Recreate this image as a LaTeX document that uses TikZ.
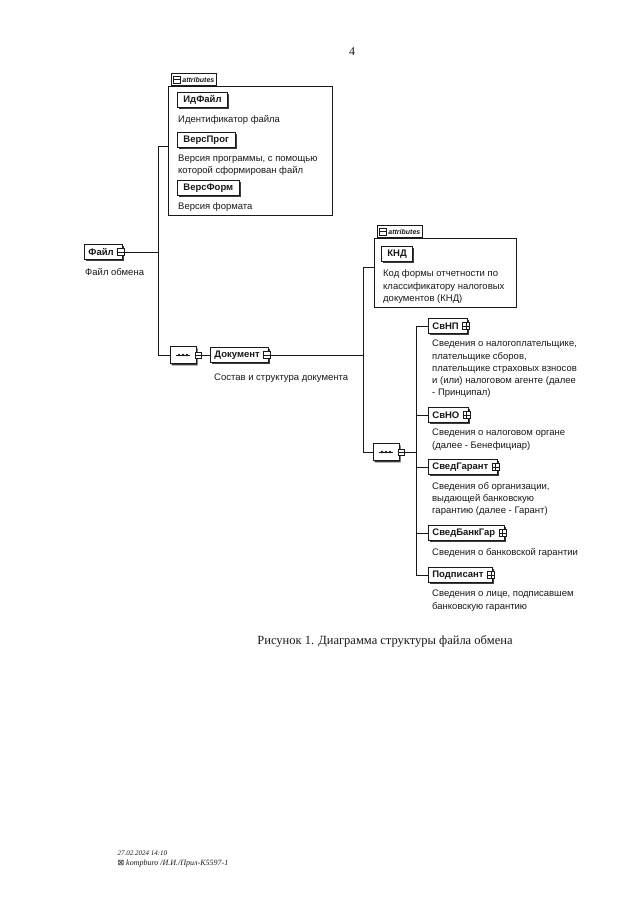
\documentclass[tikz,border=0pt]{standalone}
\usepackage{fontspec}
\setmainfont{Liberation Serif}
\newfontfamily\diagfont{Liberation Sans}
\newfontfamily\symbfont{DejaVu Sans}
\usepackage{tikz}
\usetikzlibrary{positioning, shapes.misc, shadows}
\definecolor{inkGray}{RGB}{25, 25, 25}
\definecolor{shadeGray}{RGB}{60, 60, 60}

\begin{document}
\begin{tikzpicture}[
    x=1pt, y=-1pt,
    every node/.style={font=\diagfont\fontsize{9.5}{12.3}\selectfont, text=inkGray},
    elem/.style={
        rectangle, draw=inkGray, line width=0.8pt, fill=white, anchor=west,
        font=\diagfont\fontsize{9.5}{11}\selectfont\bfseries,
        minimum height=15pt, inner xsep=4pt, inner ysep=0pt,
        drop shadow={shadow xshift=1.6pt, shadow yshift=-1.8pt, fill=shadeGray, opacity=1}
    },
    attr/.style={elem, inner xsep=6pt},
    haskids/.style={execute at end node={\hspace*{5pt}}},
    desc/.style={anchor=north west, align=left, inner sep=0pt},
    attrbox/.style={rectangle, draw=inkGray, line width=0.8pt, anchor=north west, inner sep=0pt},
    attrtab/.style={
        rectangle, draw=inkGray, line width=0.8pt, fill=white, anchor=south west,
        font=\diagfont\fontsize{7}{8}\selectfont\bfseries\itshape,
        minimum height=12pt, inner xsep=2pt, inner ysep=0pt
    },
    plusbox/.style={
        rectangle, draw=inkGray, line width=0.6pt, fill=white, minimum size=7pt, inner sep=0pt,
        path picture={\draw[line width=0.6pt] (path picture bounding box.west) -- (path picture bounding box.east)
            (path picture bounding box.north) -- (path picture bounding box.south);}
    },
    minusbox/.style={
        rectangle, draw=inkGray, line width=0.6pt, fill=white, minimum size=7pt, inner sep=0pt,
        path picture={\draw[line width=0.6pt] (path picture bounding box.west) -- (path picture bounding box.east);}
    },
    seq/.style={
        chamfered rectangle, chamfered rectangle xsep=5pt, draw=inkGray, line width=0.8pt, fill=white,
        minimum width=26pt, minimum height=17pt, inner sep=0pt,
        drop shadow={shadow xshift=1.6pt, shadow yshift=-1.8pt, fill=shadeGray, opacity=1},
        path picture={
            \draw[line width=0.7pt] ([xshift=-7pt]path picture bounding box.center) -- ([xshift=7pt]path picture bounding box.center);
            \foreach \dx in {-4,0,4} \fill[inkGray] ([xshift=\dx pt]path picture bounding box.center) circle (1.4pt);
        }
    },
    conn/.style={draw=inkGray, line width=0.8pt}
]
\fill[white] (0,0) rectangle (640,905);
\useasboundingbox (0,0) rectangle (640,905);

% --- page number -----------------------------------------------------------
\node[font=\rmfamily\fontsize{12}{14}\selectfont] (pagenum) at (352,52) {4};

% --- root element: Файл ---------------------------------------------------
\node[elem, haskids] (fajl) at (84,252) {Файл};
\node[minusbox] (fajlicon) at ([xshift=-2pt]fajl.east) {};
\node[desc, below right=8pt and 1pt of fajl.south west] (fajldesc) {Файл обмена};

% --- attributes of Файл ----------------------------------------------------
\node[attrbox, minimum width=164pt, minimum height=129pt] (attrone) at (168,86) {};
\node[attrtab] (tabone) at ([xshift=3pt]attrone.north west) {\hspace*{9pt}attributes};
\node[minusbox] (tabonesign) at ([xshift=5.5pt]tabone.west) {};

\node[attr] (idfajl) at (177,100) {ИдФайл};
\node[desc, below right=7pt and 1pt of idfajl.south west] (idfajldesc) {Идентификатор файла};
\node[attr] (versprog) at (177,140) {ВерсПрог};
\node[desc, below right=7pt and 1pt of versprog.south west] (versprogdesc) {Версия программы, с помощью\\которой сформирован файл};
\node[attr] (versform) at (177,188) {ВерсФорм};
\node[desc, below right=7pt and 1pt of versform.south west] (versformdesc) {Версия формата};

% --- sequence under Файл -> Документ ---------------------------------------
\node[seq] (seqone) at (183,355) {};
\node[minusbox, minimum size=6pt] (seqoneicon) at ([xshift=2pt]seqone.east) {};
\node[elem, haskids] (dok) at (210,355) {Документ};
\node[minusbox] (dokicon) at ([xshift=-2pt]dok.east) {};
\node[desc, below right=11pt and 4pt of dok.south west] (dokdesc) {Состав и структура документа};

% --- attributes of Документ ------------------------------------------------
\node[attrbox, minimum width=142pt, minimum height=69pt] (attrtwo) at (374,238) {};
\node[attrtab] (tabtwo) at ([xshift=3pt]attrtwo.north west) {\hspace*{9pt}attributes};
\node[minusbox] (tabtwosign) at ([xshift=5.5pt]tabtwo.west) {};

\node[attr] (knd) at (381,254) {КНД};
\node[desc, below right=8pt and 2pt of knd.south west] (knddesc) {Код формы отчетности по\\классификатору налоговых\\документов (КНД)};

% --- sequence under Документ ------------------------------------------------
\node[seq] (seqtwo) at (386,452) {};
\node[minusbox, minimum size=6pt] (seqtwoicon) at ([xshift=2pt]seqtwo.east) {};

\node[elem, haskids] (svnp) at (428,326) {СвНП};
\node[plusbox] (svnpicon) at ([xshift=-2pt]svnp.east) {};
\node[desc, below right=6pt and 4pt of svnp.south west] (svnpdesc) {Сведения о налогоплательщике,\\плательщике сборов,\\плательщике страховых взносов\\и (или) налоговом агенте (далее\\- Принципал)};

\node[elem, haskids] (svno) at (428,415) {СвНО};
\node[plusbox] (svnoicon) at ([xshift=-2pt]svno.east) {};
\node[desc, below right=6pt and 4pt of svno.south west] (svnodesc) {Сведения о налоговом органе\\(далее - Бенефициар)};

\node[elem, haskids] (garant) at (428,467) {СведГарант};
\node[plusbox] (garanticon) at ([xshift=-2pt]garant.east) {};
\node[desc, below right=7pt and 4pt of garant.south west] (garantdesc) {Сведения об организации,\\выдающей банковскую\\гарантию (далее - Гарант)};

\node[elem, haskids] (bankgar) at (428,533) {СведБанкГар};
\node[plusbox] (bankgaricon) at ([xshift=-2pt]bankgar.east) {};
\node[desc, below right=7pt and 4pt of bankgar.south west] (bankgardesc) {Сведения о банковской гарантии};

\node[elem, haskids] (podp) at (428,575) {Подписант};
\node[plusbox] (podpicon) at ([xshift=-2pt]podp.east) {};
\node[desc, below right=7pt and 4pt of podp.south west] (podpdesc) {Сведения о лице, подписавшем\\банковскую гарантию};

% --- connectors -------------------------------------------------------------
\coordinate (trunkone) at (158,146);
\coordinate (trunktwo) at (363,267);
\coordinate (trunkthree) at (416,452);
\draw[conn] (fajlicon.east) -- (fajlicon.east -| trunkone);
\draw[conn] (attrone.west |- trunkone) -- (trunkone) |- (seqone.west);
\draw[conn] (seqoneicon.east) -- (dok.west);
\draw[conn] (dokicon.east) -- (dokicon.east -| trunktwo);
\draw[conn] (attrtwo.west |- trunktwo) -- (trunktwo) |- (seqtwo.west);
\draw[conn] (seqtwoicon.east) -- (trunkthree);
\draw[conn] (svnp.west -| trunkthree) -- (podp.west -| trunkthree);
\draw[conn] (svnp.west -| trunkthree) -- (svnp.west);
\draw[conn] (svno.west -| trunkthree) -- (svno.west);
\draw[conn] (garant.west -| trunkthree) -- (garant.west);
\draw[conn] (bankgar.west -| trunkthree) -- (bankgar.west);
\draw[conn] (podp.west -| trunkthree) -- (podp.west);

% --- caption and stamp ------------------------------------------------------
\node[font=\rmfamily\fontsize{12.5}{15}\selectfont] (caption) at (385,641) {Рисунок 1. Диаграмма структуры файла обмена};
\node[anchor=west, font=\rmfamily\itshape\fontsize{7}{8}\selectfont] (stampdate) at (114,853) {27.02.2024 14:10};
\node[anchor=west, font=\rmfamily\itshape\fontsize{8}{9}\selectfont] (stampfile) at (114,864) {{\symbfont\upshape ⊠} kompburo /И.И./Прил-К5597-1};

\end{tikzpicture}
\end{document}
